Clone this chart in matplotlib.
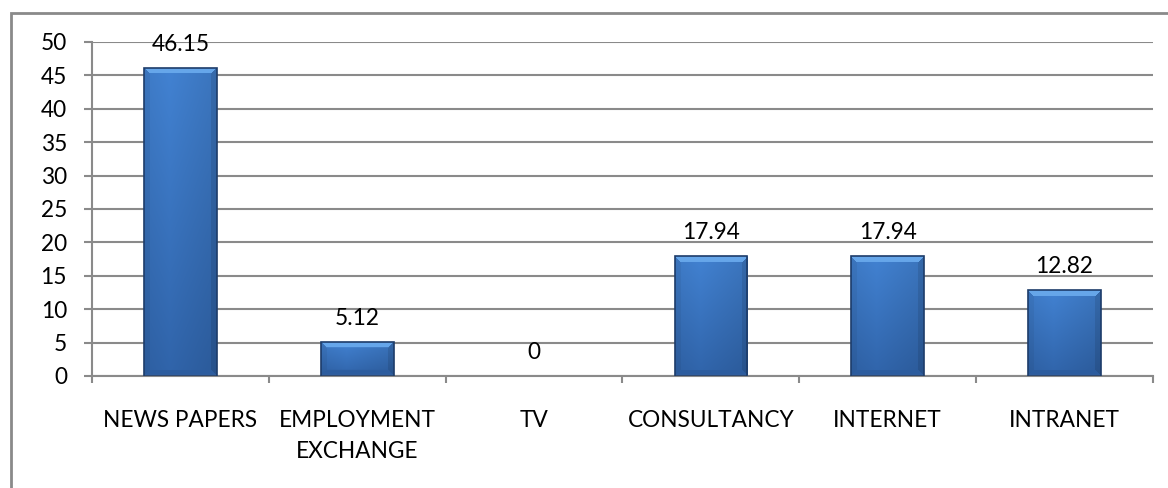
import numpy as np
import matplotlib
matplotlib.use("Agg")
from matplotlib import pyplot as plt
from matplotlib.patches import Rectangle

# sources of recruitment, percent of respondents
sources = ["NEWS PAPERS", "EMPLOYMENT\nEXCHANGE", "TV", "CONSULTANCY", "INTERNET", "INTRANET"]
percent = [46.15, 5.12, 0, 17.94, 17.94, 12.82]
y_ticks = [0, 5, 10, 15, 20, 25, 30, 35, 40, 45, 50]

plt.rcParams["font.family"] = ["Lato", "DejaVu Sans"]
GRID = "#8a8a8a"
FS = 16.3


def hex_rgb(h):
    h = h.lstrip("#")
    return np.array([int(h[i:i + 2], 16) / 255 for i in (0, 2, 4)])


def bar_image(w, h, bevel=6):
    # bevelled blue face, lighter on top, darker towards the bottom
    w = max(int(round(w)), 2)
    h = max(int(round(h)), 2)
    ii, jj = np.mgrid[0:h, 0:w]
    t = ii / max(h - 1, 1)
    s = jj / max(w - 1, 1)
    top_c, bot_c = hex_rgb("#4282d2"), hex_rgb("#3064aa")
    img = top_c[None, None, :] * (1 - t[..., None]) + bot_c[None, None, :] * t[..., None]
    shade = 1.0 - 0.10 * np.abs(s - 0.35) / 0.65
    img = img * shade[..., None]
    dt, db, dl, dr = ii, h - 1 - ii, jj, w - 1 - jj
    dmin = np.minimum(np.minimum(dt, db), np.minimum(dl, dr))
    b = min(bevel, h // 3, w // 3)
    top = (dt == dmin) & (dt < b)
    bot = (db == dmin) & (db < b) & ~top
    left = (dl == dmin) & (dl < b) & ~top & ~bot
    right = (dr == dmin) & (dr < b) & ~top & ~bot & ~left
    img[top] = hex_rgb("#66a6ea")
    img[bot] = hex_rgb("#2c5c9e")
    img[left] = img[left] * 0.95
    img[right] = img[right] * 0.9
    return np.clip(img, 0, 1)


fig = plt.figure(figsize=(11.68, 4.88), dpi=100)
ax = fig.add_axes([92 / 1168, 1 - 376 / 488, (1153 - 92) / 1168, (376 - 42) / 488])

x = np.arange(len(sources))
width = 0.41
ax.set_xlim(-0.5, len(sources) - 0.5)
ax.set_ylim(0, 50)
ax.set_yticks(y_ticks)
ax.yaxis.grid(True, color=GRID, linewidth=1.5)
ax.set_axisbelow(True)

fig.canvas.draw()
for xi, v in zip(x, percent):
    if v <= 0:
        continue
    x0, x1 = xi - width / 2, xi + width / 2
    p0 = ax.transData.transform((x0, 0))
    p1 = ax.transData.transform((x1, v))
    img = bar_image(p1[0] - p0[0], p1[1] - p0[1])
    im = ax.imshow(img, extent=(x0, x1, 0, v), aspect="auto",
                   interpolation="bilinear", zorder=2)
    rect = Rectangle((x0, 0), width, v, facecolor="none",
                     edgecolor="#1d3c6a", linewidth=1.2, zorder=3)
    ax.add_patch(rect)
    im.set_clip_path(rect)

for xi, v in zip(x, percent):
    ax.annotate(f"{v:g}", (xi, v), xytext=(0, 9.5), textcoords="offset points",
                ha="center", va="bottom", fontsize=FS, color="black")

ax.set_xlim(-0.5, len(sources) - 0.5)
ax.set_ylim(0, 50)
ax.set_xticks(x)
ax.set_xticklabels(sources, fontsize=FS, linespacing=1.6)
ax.set_xticks(np.arange(-0.5, len(sources), 1), minor=True)
ax.tick_params(axis="x", which="major", length=0, pad=24.5)
ax.tick_params(axis="x", which="minor", length=5, width=1.5, color=GRID, direction="out")
ax.tick_params(axis="y", length=6, width=1.5, color=GRID, labelsize=FS, pad=12)

for side in ("top", "right"):
    ax.spines[side].set_visible(False)
for side in ("left", "bottom"):
    ax.spines[side].set_color(GRID)
    ax.spines[side].set_linewidth(1.5)

# chart area frame
fig.patches.append(Rectangle((11 / 1168, -0.2), 1.5, 1.2 - 13 / 488, transform=fig.transFigure,
                             facecolor="none", edgecolor=GRID, linewidth=2))

fig.savefig("out.png", dpi=100)
